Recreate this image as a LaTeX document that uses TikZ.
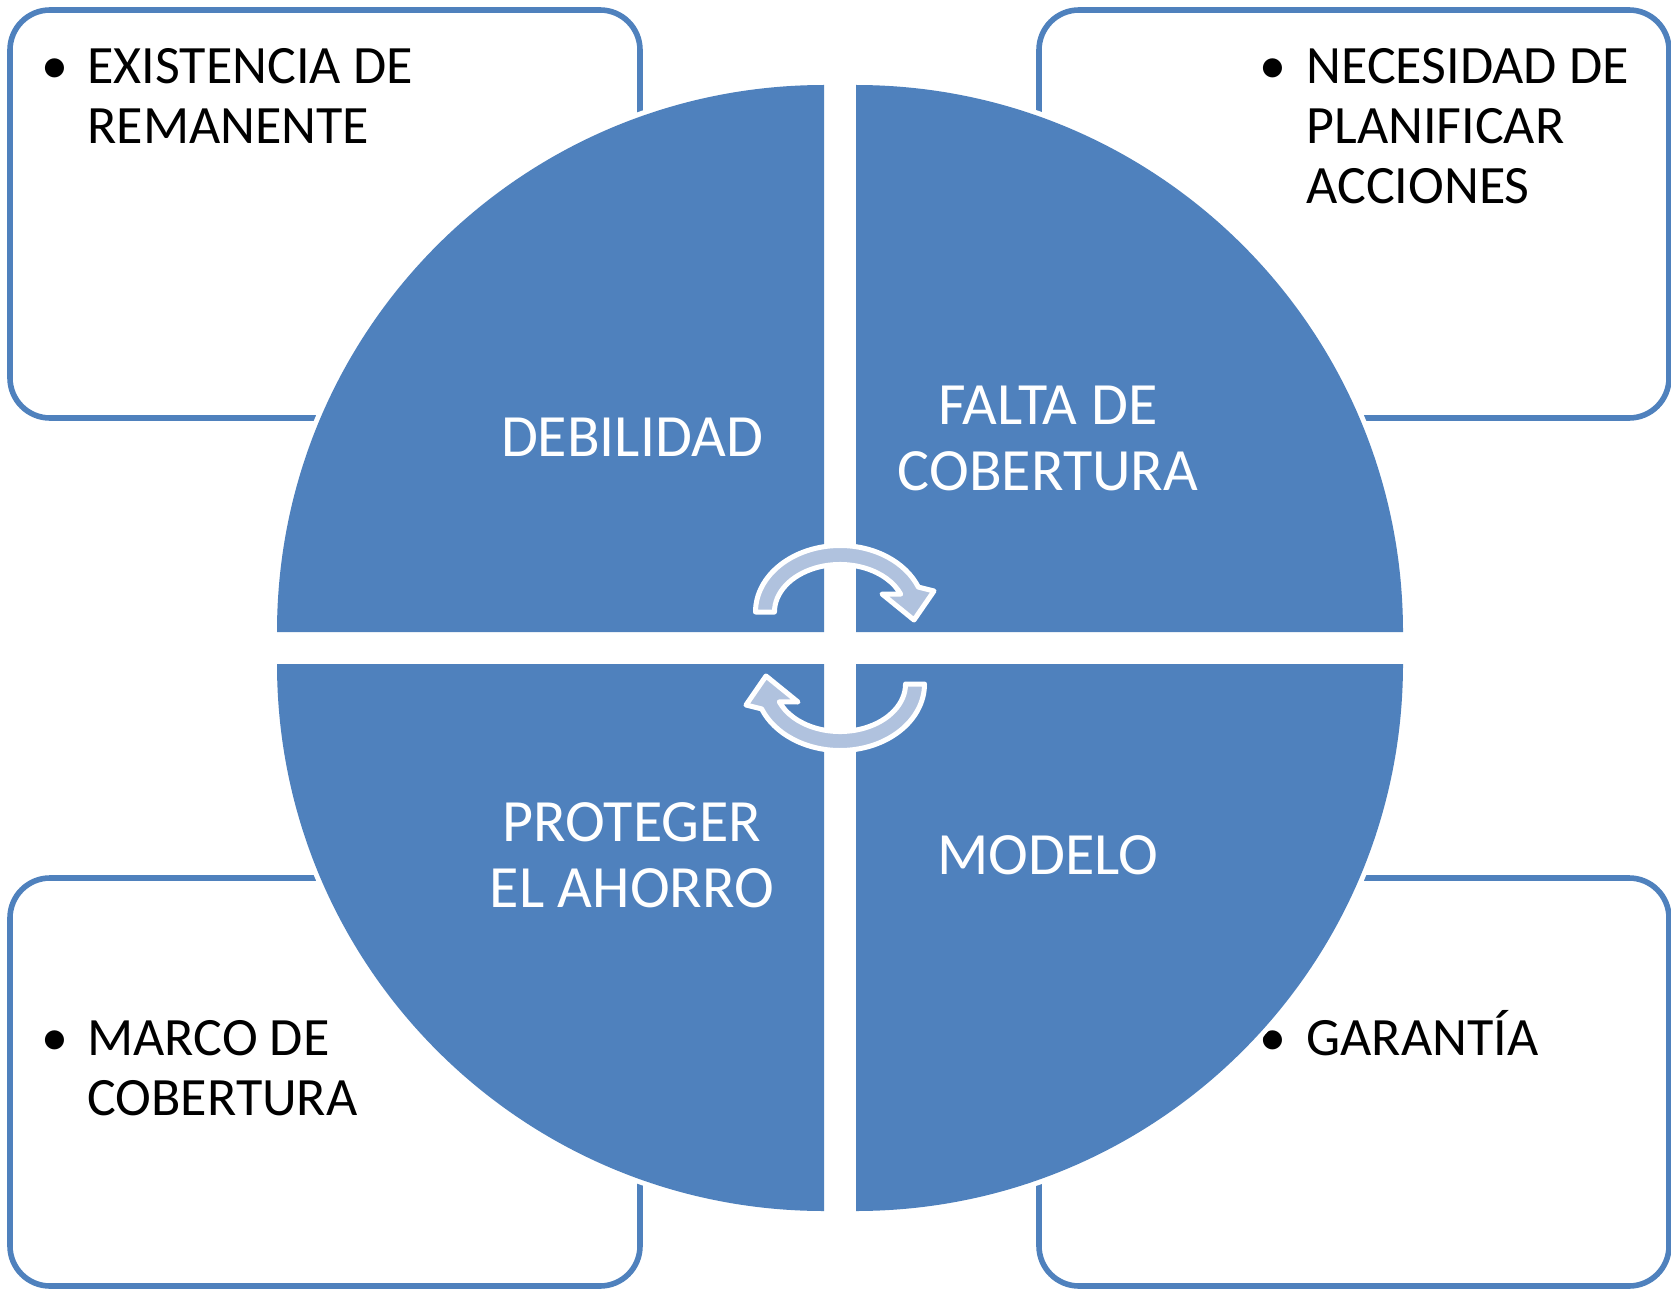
\documentclass[tikz,border=0pt]{standalone}
\usepackage{fontspec}
\setmainfont{Carlito}
\definecolor{sblue}{HTML}{4F81BD}
\definecolor{afill}{HTML}{B0C2DE}
\begin{document}
\begin{tikzpicture}[x=0.5pt,y=-0.5pt,
  box/.style={draw=sblue,line width=2.8pt,rounded corners=20pt},
  sector/.style={fill=sblue,preaction={draw=white,line width=5pt}},
  circarrow/.style={fill=afill,draw=white,line width=2.5pt,line join=round},
  boxtext/.style={anchor=base west,inner sep=0pt,font=\fontsize{27}{30}\selectfont},
  bulletmark/.style={anchor=base,inner sep=0pt,font=\fontsize{27}{30}\selectfont},
  sectortext/.style={anchor=base,inner sep=0pt,text=white,font=\fontsize{30}{33}\selectfont}]
\useasboundingbox (0,0) rectangle (1671,1289);
% boxes
\draw[box] (10,10) rectangle (640,418);
\draw[box] (1039,10) rectangle (1669,418);
\draw[box] (10,878) rectangle (640,1286);
\draw[box] (1039,878) rectangle (1669,1286);
% box texts
\node[bulletmark] (b1) at (55,84) {•};
\node[boxtext] (t1) at (87,84) {\begin{tabular}[t]{@{}l@{}}EXISTENCIA DE\\REMANENTE\end{tabular}};
\node[bulletmark] (b2) at (1273,84) {•};
\node[boxtext] (t2) at (1306,84) {\begin{tabular}[t]{@{}l@{}}NECESIDAD DE\\PLANIFICAR\\ACCIONES\end{tabular}};
\node[bulletmark] (b3) at (55,1055) {•};
\node[boxtext] (t3) at (87,1055) {\begin{tabular}[t]{@{}l@{}}MARCO DE\\COBERTURA\end{tabular}};
\node[bulletmark] (b4) at (1273,1055) {•};
\node[boxtext] (t4) at (1306,1055) {GARANTÍA};
% sectors
\path[sector] (824,632) -- (277,632) arc[start angle=180,end angle=270,radius=547] -- cycle;
\path[sector] (856,632) -- (856,85) arc[start angle=270,end angle=360,radius=547] -- cycle;
\path[sector] (856,664) -- (1403,664) arc[start angle=0,end angle=90,radius=547] -- cycle;
\path[sector] (824,664) -- (824,1211) arc[start angle=90,end angle=180,radius=547] -- cycle;
% sector texts
\node[sectortext] (debilidad) at (632,456) {DEBILIDAD};
\node[sectortext] (falta) at (1048,424) {\begin{tabular}[t]{@{}c@{}}FALTA DE\\COBERTURA\end{tabular}};
\node[sectortext] (proteger) at (632,841) {\begin{tabular}[t]{@{}c@{}}PROTEGER\\EL AHORRO\end{tabular}};
\node[sectortext] (modelo) at (1048,874) {MODELO};
% circular arrows
\path[circarrow] (774.5,612) -- (755.5,612) arc[start angle=180,end angle=338,x radius=84.5,y radius=66.5]
  -- (934,591) -- (914,620) -- (882,594) -- (900.7,594.2)
  arc[start angle=338,end angle=180,x radius=65.5,y radius=47.5] -- cycle;
\begin{scope}[rotate around={180:(840,648)}]
\path[circarrow] (774.5,612) -- (755.5,612) arc[start angle=180,end angle=338,x radius=84.5,y radius=66.5]
  -- (934,591) -- (914,620) -- (882,594) -- (900.7,594.2)
  arc[start angle=338,end angle=180,x radius=65.5,y radius=47.5] -- cycle;
\end{scope}
\end{tikzpicture}
\end{document}
